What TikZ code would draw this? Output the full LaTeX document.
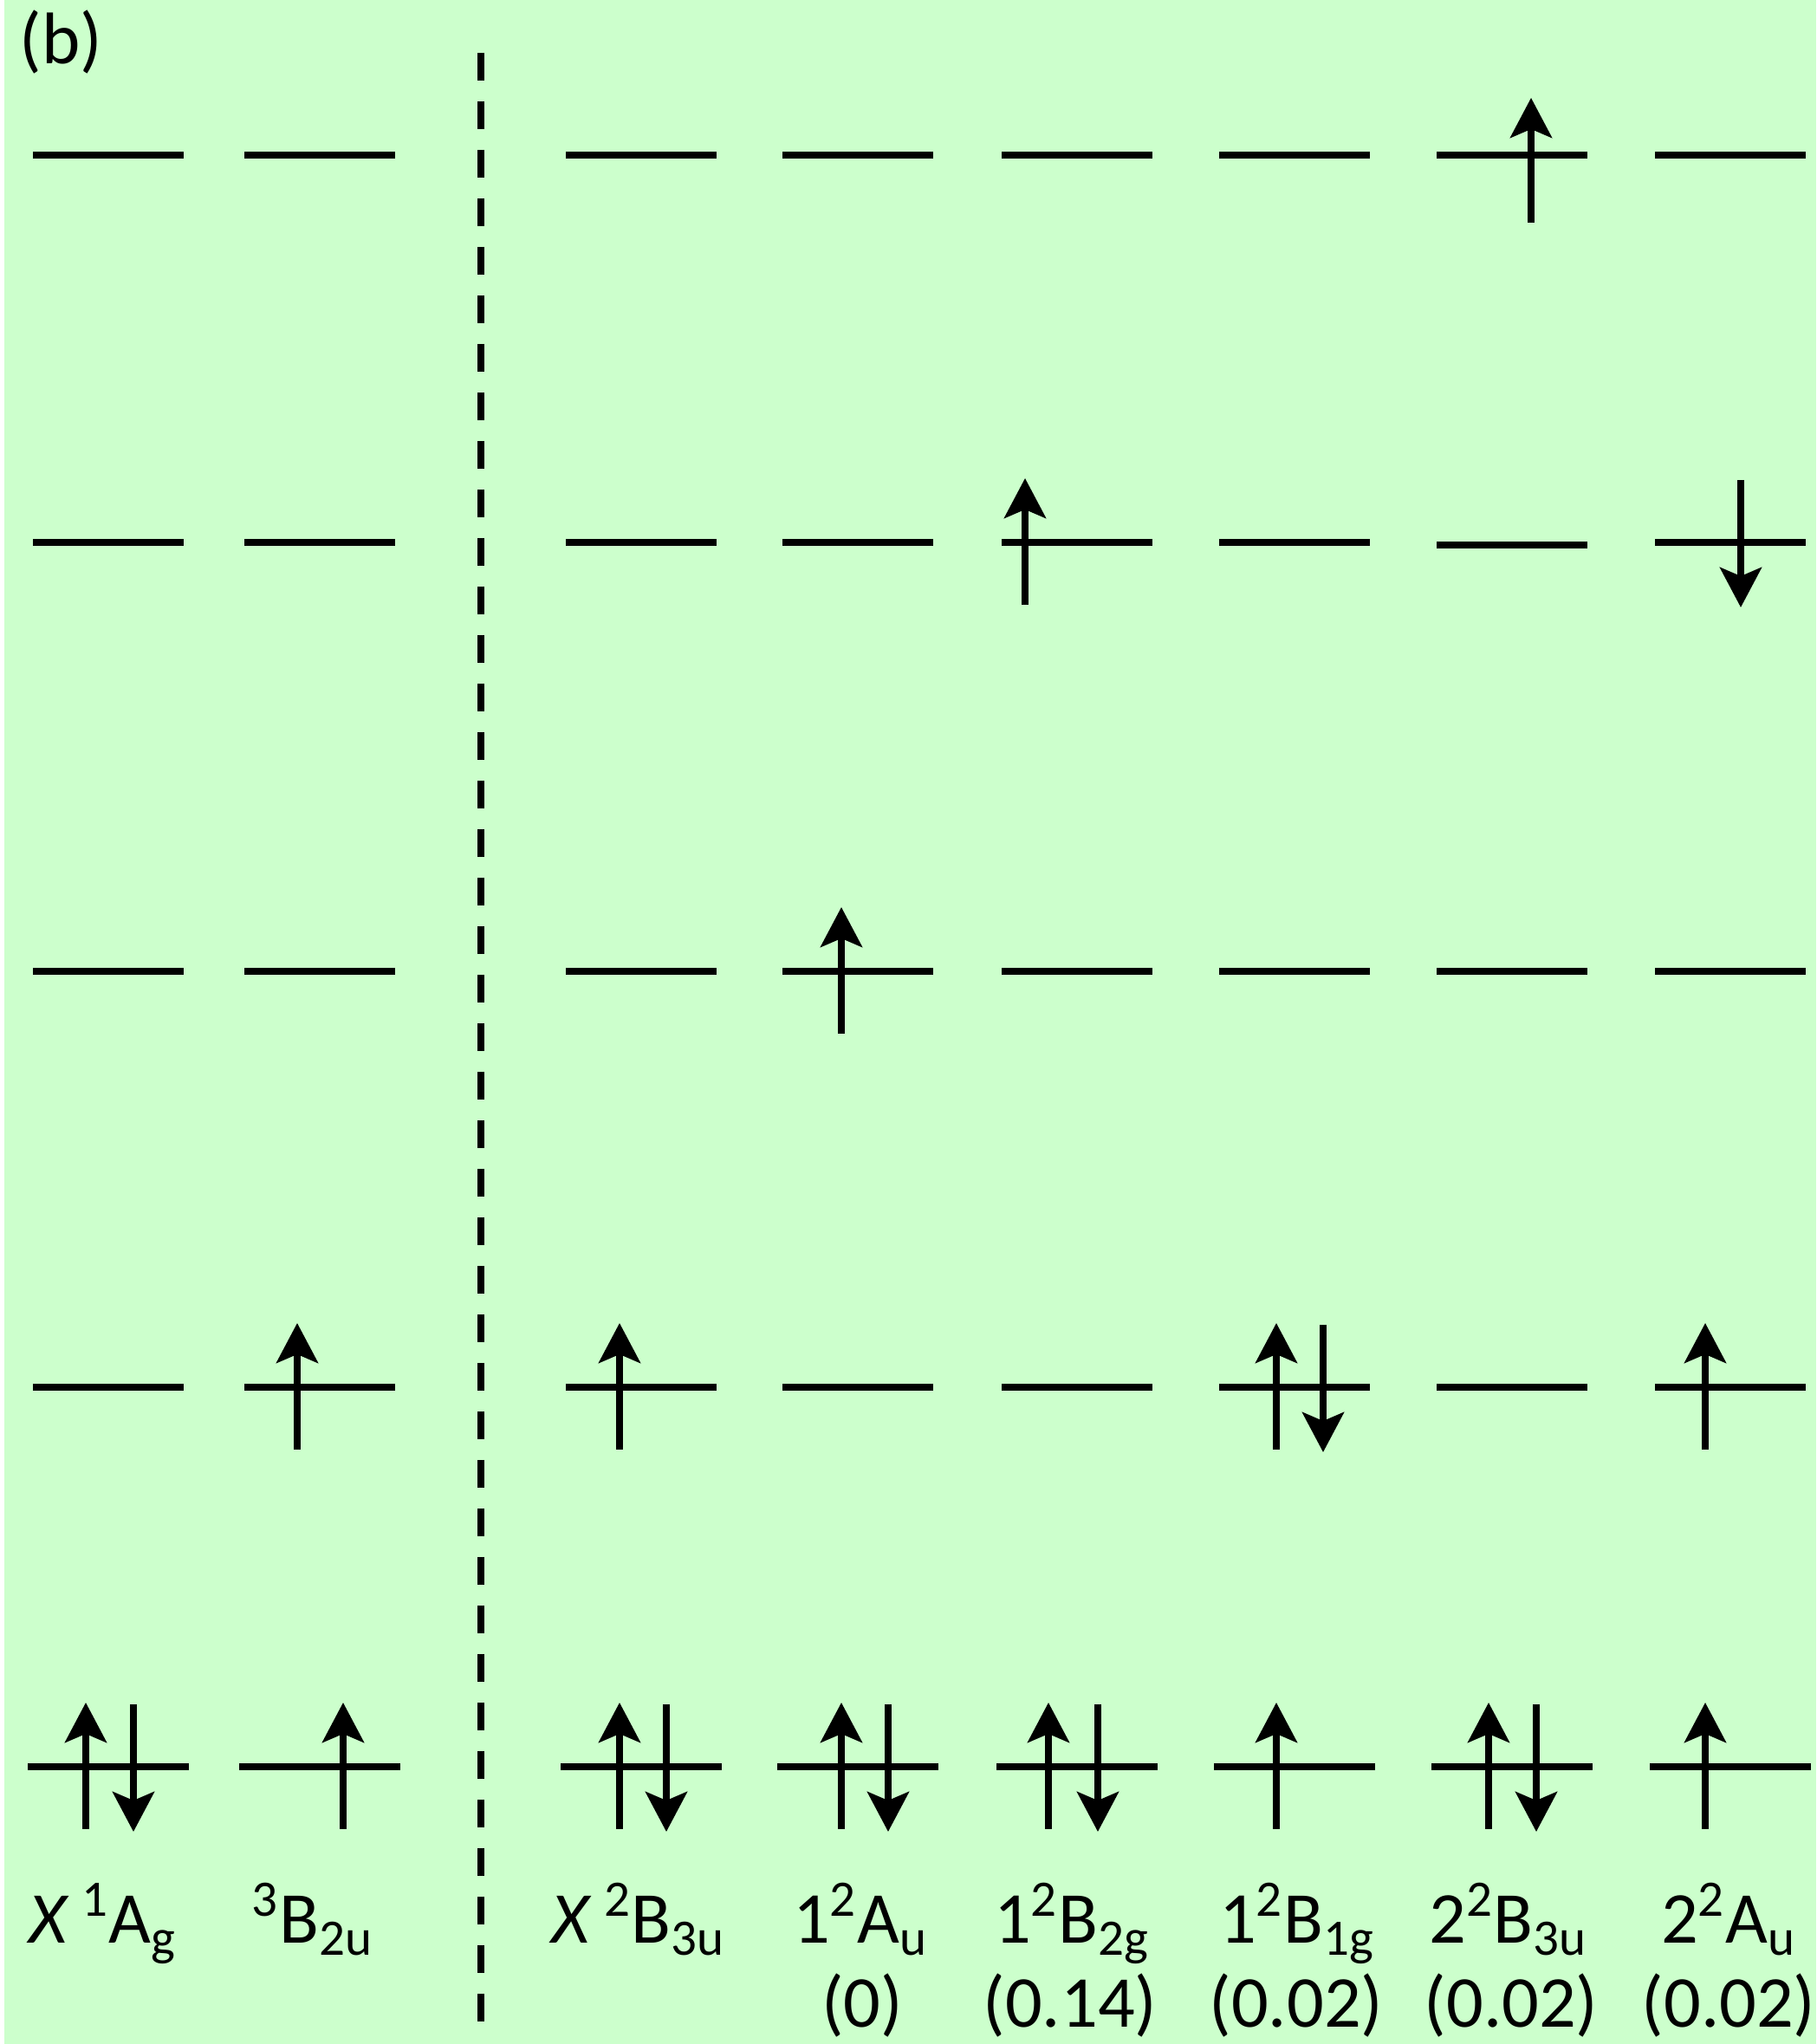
\documentclass[tikz,border=0pt]{standalone}
\usepackage{fontspec}
\setmainfont{Carlito}
\usetikzlibrary{arrows.meta}
\definecolor{mint}{HTML}{CCFFCC}
\tikzset{
  lbl/.style={font=\fontsize{24}{28}\selectfont,text=black,anchor=base,inner sep=0pt},
  level/.style={draw=black,line width=2.4pt},
  spin/.style={-{Stealth[length=4.6mm,width=4.8mm,inset=1mm]},draw=black,line width=2.1pt},
  divider/.style={draw=black,line width=2.1pt,dash pattern=on 3.2mm off 2.4mm}
}
\begin{document}
\begin{tikzpicture}[x=1cm,y=1cm]
\path[use as bounding box] (0,0) rectangle (20.96,23.59);
\fill[white] (0,0) rectangle (20.96,23.59);
\fill[mint] (0.05,0) rectangle (20.96,23.59);
\node[lbl,anchor=base west] (tag) at (0.22,22.85) {(b)};
\draw[divider] (5.55,22.98)--(5.55,0.24);
% levels, top to bottom
\draw[level] (0.38,21.80)--(2.12,21.80); \draw[level] (2.82,21.80)--(4.56,21.80); \draw[level] (6.53,21.80)--(8.27,21.80); \draw[level] (9.03,21.80)--(10.77,21.80);
\draw[level] (11.56,21.80)--(13.30,21.80); \draw[level] (14.07,21.80)--(15.81,21.80); \draw[level] (16.58,21.80)--(18.32,21.80); \draw[level] (19.10,21.80)--(20.84,21.80);
\draw[level] (0.38,17.33)--(2.12,17.33); \draw[level] (2.82,17.33)--(4.56,17.33); \draw[level] (6.53,17.33)--(8.27,17.33); \draw[level] (9.03,17.33)--(10.77,17.33);
\draw[level] (11.56,17.33)--(13.30,17.33); \draw[level] (14.07,17.33)--(15.81,17.33); \draw[level] (16.58,17.30)--(18.32,17.30); \draw[level] (19.10,17.33)--(20.84,17.33);
\draw[level] (0.38,12.38)--(2.12,12.38); \draw[level] (2.82,12.38)--(4.56,12.38); \draw[level] (6.53,12.38)--(8.27,12.38); \draw[level] (9.03,12.38)--(10.77,12.38);
\draw[level] (11.56,12.38)--(13.30,12.38); \draw[level] (14.07,12.38)--(15.81,12.38); \draw[level] (16.58,12.38)--(18.32,12.38); \draw[level] (19.10,12.38)--(20.84,12.38);
\draw[level] (0.38,7.58)--(2.12,7.58); \draw[level] (2.82,7.58)--(4.56,7.58); \draw[level] (6.53,7.58)--(8.27,7.58); \draw[level] (9.03,7.58)--(10.77,7.58);
\draw[level] (11.56,7.58)--(13.30,7.58); \draw[level] (14.07,7.58)--(15.81,7.58); \draw[level] (16.58,7.58)--(18.32,7.58); \draw[level] (19.10,7.58)--(20.84,7.58);
\draw[level] (0.32,3.20)--(2.18,3.20); \draw[level] (2.76,3.20)--(4.62,3.20); \draw[level] (6.47,3.20)--(8.33,3.20); \draw[level] (8.97,3.20)--(10.83,3.20);
\draw[level] (11.50,3.20)--(13.36,3.20); \draw[level] (14.01,3.20)--(15.87,3.20); \draw[level] (16.52,3.20)--(18.38,3.20); \draw[level] (19.04,3.20)--(20.90,3.20);
% electrons
\draw[spin] (17.67,21.02)--(17.67,22.46);
\draw[spin] (11.83,16.61)--(11.83,18.07); \draw[spin] (20.09,18.05)--(20.09,16.58);
\draw[spin] (9.71,11.66)--(9.71,13.12);
\draw[spin] (3.43,6.86)--(3.43,8.32); \draw[spin] (7.15,6.86)--(7.15,8.32); \draw[spin] (14.73,6.86)--(14.73,8.32); \draw[spin] (15.27,8.30)--(15.27,6.83); \draw[spin] (19.68,6.86)--(19.68,8.32);
\draw[spin] (0.99,2.48)--(0.99,3.94); \draw[spin] (1.54,3.92)--(1.54,2.45); \draw[spin] (3.96,2.48)--(3.96,3.94);
\draw[spin] (7.15,2.48)--(7.15,3.94); \draw[spin] (7.69,3.92)--(7.69,2.45); \draw[spin] (9.71,2.48)--(9.71,3.94); \draw[spin] (10.25,3.92)--(10.25,2.45);
\draw[spin] (12.10,2.48)--(12.10,3.94); \draw[spin] (12.67,3.92)--(12.67,2.45); \draw[spin] (14.73,2.48)--(14.73,3.94);
\draw[spin] (17.18,2.48)--(17.18,3.94); \draw[spin] (17.73,3.92)--(17.73,2.45); \draw[spin] (19.68,2.48)--(19.68,3.94);
% state labels
\node[lbl] (st1) at (1.19,1.16) {\textit{X}\,\textsuperscript{1}A\textsubscript{g}};
\node[lbl] (st2) at (3.61,1.16) {\textsuperscript{3}B\textsubscript{2u}};
\node[lbl] (st3) at (7.37,1.16) {\textit{X}\,\textsuperscript{2}B\textsubscript{3u}};
\node[lbl] (st4) at (9.93,1.16) {1\textsuperscript{2}A\textsubscript{u}}; \node[lbl] (wt4) at (9.95,0.19) {(0)};
\node[lbl] (st5) at (12.37,1.16) {1\textsuperscript{2}B\textsubscript{2g}}; \node[lbl] (wt5) at (12.35,0.19) {(0.14)};
\node[lbl] (st6) at (14.97,1.16) {1\textsuperscript{2}B\textsubscript{1g}}; \node[lbl] (wt6) at (14.96,0.19) {(0.02)};
\node[lbl] (st7) at (17.41,1.16) {2\textsuperscript{2}B\textsubscript{3u}}; \node[lbl] (wt7) at (17.44,0.19) {(0.02)};
\node[lbl] (st8) at (19.95,1.16) {2\textsuperscript{2}A\textsubscript{u}}; \node[lbl] (wt8) at (19.95,0.19) {(0.02)};
\end{tikzpicture}
\end{document}
